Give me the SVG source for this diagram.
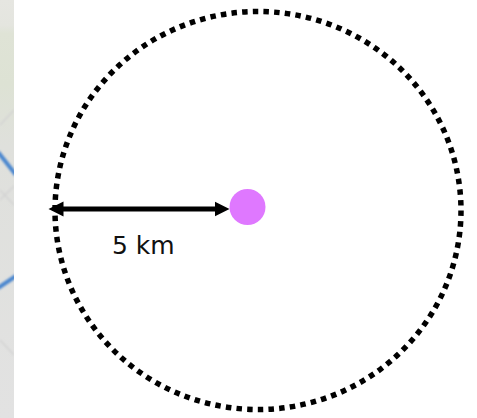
<svg xmlns="http://www.w3.org/2000/svg" width="477" height="418" viewBox="0 0 477 418">
<defs>
<linearGradient id="map" x1="0" y1="0" x2="0" y2="1">
<stop offset="0" stop-color="#e6e6e1"/><stop offset="0.06" stop-color="#e4e5df"/><stop offset="0.08" stop-color="#dfe3d6"/><stop offset="0.2" stop-color="#dde2d4"/><stop offset="0.35" stop-color="#dfe0dc"/><stop offset="1" stop-color="#e2e2e2"/>
</linearGradient>
<filter id="soft"><feGaussianBlur stdDeviation="0.8"/></filter>
<clipPath id="stripclip"><rect x="0" y="0" width="14" height="418"/></clipPath>
<marker id="ah" markerWidth="16" markerHeight="16" refX="0.500" refY="8" orient="auto-start-reverse" markerUnits="userSpaceOnUse"><path d="M0 .5L15 8L0 15.500z" fill="#000"/></marker>
</defs>
<style>
.ring{fill:none;stroke:#000;stroke-width:5.500;stroke-dasharray:5.500 5.200}
.link{fill:none;stroke:#000;stroke-width:5}
.road{fill:none;stroke:#4a86cf;stroke-width:4}
.thin{fill:none;stroke:#d2d2d2;stroke-width:1.500}
text{font-family:"DejaVu Sans",sans-serif;font-size:25px;fill:#111}
</style>
<g id="map-strip" clip-path="url(#stripclip)">
<rect x="0" y="0" width="14" height="418" fill="url(#map)"/>
<g filter="url(#soft)">
<path class="thin" d="M0 125L14 110M0 200L14 186M0 190L14 205M0 340L14 355"/>
<path class="road" d="M-2 152L16 175"/>
<path class="road" d="M-2 288L16 276"/>
</g>
</g>
<g id="range-circle"><ellipse class="ring" cx="258" cy="210.500" rx="203" ry="199"/></g>
<g id="center-point"><circle cx="247.500" cy="207" r="18" fill="#df78ff"/></g>
<g id="connectors"><line class="link" x1="63" y1="209" x2="215" y2="209" marker-start="url(#ah)" marker-end="url(#ah)"/></g>
<g id="distance-label"><text x="112" y="253.500">5 km</text></g>
</svg>
